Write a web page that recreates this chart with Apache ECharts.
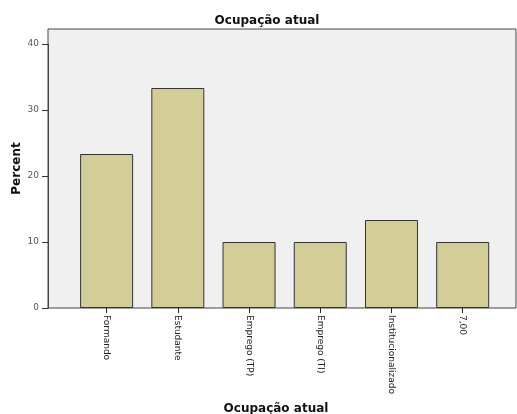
<!DOCTYPE html>
<html><head><meta charset="utf-8">
<script src="https://cdn.jsdelivr.net/npm/echarts@6/dist/echarts.min.js"></script>
<style>html,body{margin:0;padding:0;background:#fff}#c{width:517px;height:414px}</style>
</head><body><div id="c"></div>
<script>
const categories = ['Formando', 'Estudante', 'Emprego (TP)', 'Emprego (TI)', 'Institucionalizado', '7,00'];
const percents = [23.33, 33.33, 10.0, 10.0, 13.33, 10.0];
const yTicks = [0, 10, 20, 30, 40];

const chart = echarts.init(document.getElementById('c'), null, {renderer: 'canvas'});
const FONT = 'DejaVu Sans';
chart.setOption({
  animation: false,
  backgroundColor: '#ffffff',
  title: [
    {text: 'Ocupação atual', left: 262, top: 10, textAlign: 'center',
     textStyle: {fontFamily: FONT, fontSize: 12, fontWeight: 'bold', color: '#111'}},
    {text: 'Ocupação atual', left: 271, top: 398, textAlign: 'center',
     textStyle: {fontFamily: FONT, fontSize: 12, fontWeight: 'bold', color: '#111'}}
  ],
  grid: [
    {left: 48, right: 1, top: 29, bottom: 106, show: true, backgroundColor: '#f0f0f0',
     borderColor: '#444', borderWidth: 1, z: 0},
    {left: 71, right: 18.7, top: 44, bottom: 106}
  ],
  xAxis: [
    {gridIndex: 0, type: 'value', show: false, min: 0, max: 1},
    {gridIndex: 1, type: 'category', data: categories,
     axisLine: {show: false},
     axisTick: {show: true, alignWithLabel: true, length: 5, lineStyle: {color: '#222'}},
     axisLabel: {rotate: -90, margin: 7, fontFamily: FONT, fontSize: 9, color: '#222', interval: 0}}
  ],
  yAxis: [
    {gridIndex: 0, type: 'value', min: 0, max: 1, name: 'Percent', nameLocation: 'middle', nameGap: 25,
     nameTextStyle: {fontFamily: FONT, fontSize: 12, fontWeight: 'bold', color: '#111'},
     axisLine: {show: false}, axisTick: {show: false}, axisLabel: {show: false}, splitLine: {show: false}},
    {gridIndex: 1, type: 'value', min: yTicks[0], max: yTicks[yTicks.length - 1], interval: 10, offset: 23,
     axisLine: {show: true, lineStyle: {color: '#444'}},
     axisTick: {show: true, inside: false, length: 6, lineStyle: {color: '#333'}},
     axisLabel: {fontFamily: FONT, fontSize: 9, color: '#555', margin: 9},
     splitLine: {show: false}}
  ],
  series: [{
    type: 'bar', xAxisIndex: 1, yAxisIndex: 1, data: percents, barWidth: 53,
    itemStyle: {color: '#d3ce97', borderColor: '#333', borderWidth: 1}
  }]
});
</script></body></html>
